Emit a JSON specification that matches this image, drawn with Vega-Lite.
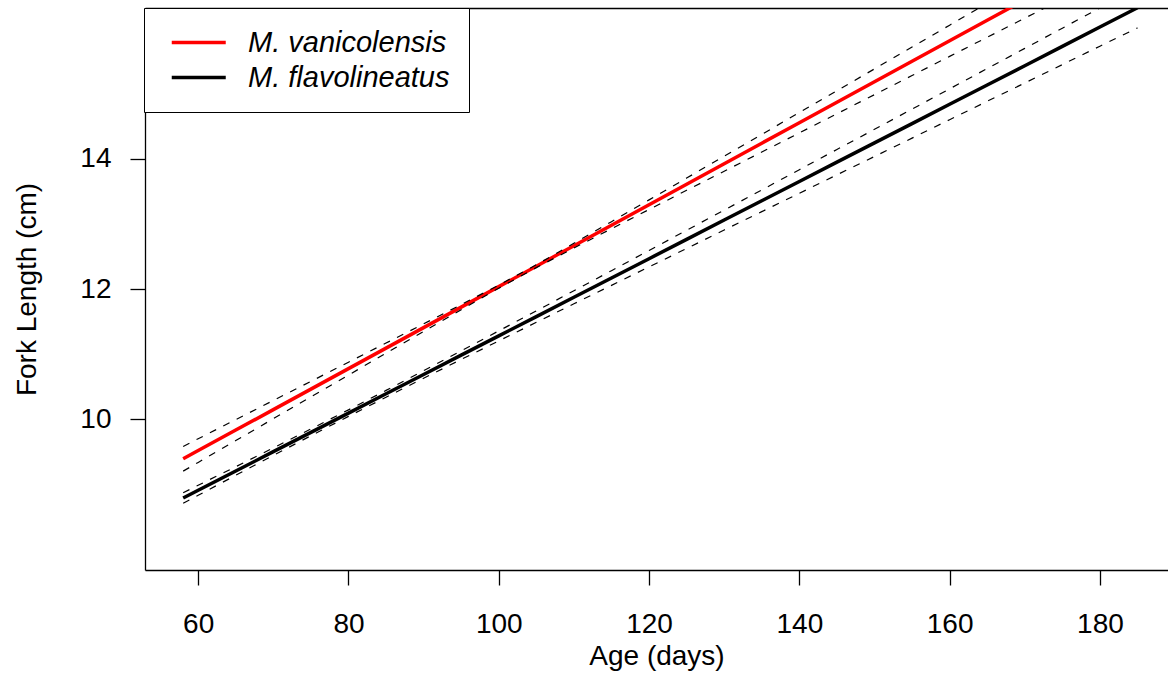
{
  "$schema": "https://vega.github.io/schema/vega-lite/v6.json",
  "width": 1023,
  "height": 562,
  "autosize": {"type": "none"},
  "padding": {"left": 145, "top": 8, "right": 0, "bottom": 109},
  "background": "white",
  "config": {
    "view": {"stroke": null},
    "font": "Liberation Sans",
    "axis": {
      "grid": false,
      "domainColor": "black",
      "domainWidth": 1.3,
      "tickColor": "black",
      "tickWidth": 1.3,
      "tickSize": 15,
      "labelFont": "Liberation Sans",
      "labelFontSize": 28,
      "labelColor": "black",
      "titleFont": "Liberation Sans",
      "titleFontSize": 28,
      "titleFontWeight": "normal",
      "titleColor": "black"
    },
    "legend": {
      "orient": "none",
      "legendX": -1,
      "legendY": 0,
      "strokeColor": "black",
      "fillColor": "white",
      "padding": 19,
      "symbolType": "M-0.5,0H3.5",
      "symbolSize": 729,
      "symbolStrokeWidth": 3.5,
      "labelFont": "Liberation Sans",
      "labelFontSize": 29,
      "labelFontStyle": "italic",
      "labelColor": "black",
      "labelOffset": 54,
      "rowPadding": 4,
      "labelLimit": 400
    }
  },
  "data": {
    "values": [
      {"species": "M. vanicolensis", "age": 58, "fit": 9.390, "lo": 9.200, "hi": 9.580},
      {"species": "M. vanicolensis", "age": 60, "fit": 9.516, "lo": 9.334, "hi": 9.698},
      {"species": "M. vanicolensis", "age": 65, "fit": 9.831, "lo": 9.670, "hi": 9.992},
      {"species": "M. vanicolensis", "age": 70, "fit": 10.146, "lo": 10.006, "hi": 10.286},
      {"species": "M. vanicolensis", "age": 75, "fit": 10.461, "lo": 10.342, "hi": 10.580},
      {"species": "M. vanicolensis", "age": 80, "fit": 10.776, "lo": 10.677, "hi": 10.875},
      {"species": "M. vanicolensis", "age": 85, "fit": 11.091, "lo": 11.013, "hi": 11.169},
      {"species": "M. vanicolensis", "age": 90, "fit": 11.406, "lo": 11.348, "hi": 11.464},
      {"species": "M. vanicolensis", "age": 95, "fit": 11.721, "lo": 11.682, "hi": 11.760},
      {"species": "M. vanicolensis", "age": 100, "fit": 12.036, "lo": 12.012, "hi": 12.060},
      {"species": "M. vanicolensis", "age": 105, "fit": 12.351, "lo": 12.329, "hi": 12.373},
      {"species": "M. vanicolensis", "age": 110, "fit": 12.666, "lo": 12.630, "hi": 12.702},
      {"species": "M. vanicolensis", "age": 115, "fit": 12.981, "lo": 12.927, "hi": 13.035},
      {"species": "M. vanicolensis", "age": 120, "fit": 13.296, "lo": 13.222, "hi": 13.370},
      {"species": "M. vanicolensis", "age": 125, "fit": 13.611, "lo": 13.517, "hi": 13.706},
      {"species": "M. vanicolensis", "age": 130, "fit": 13.926, "lo": 13.811, "hi": 14.041},
      {"species": "M. vanicolensis", "age": 135, "fit": 14.241, "lo": 14.105, "hi": 14.377},
      {"species": "M. vanicolensis", "age": 140, "fit": 14.556, "lo": 14.399, "hi": 14.713},
      {"species": "M. vanicolensis", "age": 145, "fit": 14.871, "lo": 14.694, "hi": 15.049},
      {"species": "M. vanicolensis", "age": 150, "fit": 15.186, "lo": 14.988, "hi": 15.384},
      {"species": "M. vanicolensis", "age": 155, "fit": 15.501, "lo": 15.282, "hi": 15.720},
      {"species": "M. vanicolensis", "age": 160, "fit": 15.816, "lo": 15.576, "hi": 16.056},
      {"species": "M. vanicolensis", "age": 165, "fit": 16.131, "lo": 15.870, "hi": 16.392},
      {"species": "M. vanicolensis", "age": 170, "fit": 16.446, "lo": 16.164, "hi": 16.728},
      {"species": "M. vanicolensis", "age": 175, "fit": 16.761, "lo": 16.458, "hi": 17.064},
      {"species": "M. vanicolensis", "age": 180, "fit": 17.076, "lo": 16.752, "hi": 17.400},
      {"species": "M. vanicolensis", "age": 185, "fit": 17.391, "lo": 17.046, "hi": 17.736},
      {"species": "M. flavolineatus", "age": 58, "fit": 8.787, "lo": 8.706, "hi": 8.868},
      {"species": "M. flavolineatus", "age": 60, "fit": 8.906, "lo": 8.829, "hi": 8.983},
      {"species": "M. flavolineatus", "age": 65, "fit": 9.202, "lo": 9.136, "hi": 9.268},
      {"species": "M. flavolineatus", "age": 70, "fit": 9.499, "lo": 9.441, "hi": 9.557},
      {"species": "M. flavolineatus", "age": 75, "fit": 9.796, "lo": 9.744, "hi": 9.848},
      {"species": "M. flavolineatus", "age": 80, "fit": 10.092, "lo": 10.042, "hi": 10.142},
      {"species": "M. flavolineatus", "age": 85, "fit": 10.389, "lo": 10.337, "hi": 10.441},
      {"species": "M. flavolineatus", "age": 90, "fit": 10.686, "lo": 10.628, "hi": 10.744},
      {"species": "M. flavolineatus", "age": 95, "fit": 10.983, "lo": 10.917, "hi": 11.049},
      {"species": "M. flavolineatus", "age": 100, "fit": 11.279, "lo": 11.202, "hi": 11.356},
      {"species": "M. flavolineatus", "age": 105, "fit": 11.576, "lo": 11.488, "hi": 11.664},
      {"species": "M. flavolineatus", "age": 110, "fit": 11.873, "lo": 11.773, "hi": 11.973},
      {"species": "M. flavolineatus", "age": 115, "fit": 12.169, "lo": 12.056, "hi": 12.282},
      {"species": "M. flavolineatus", "age": 120, "fit": 12.466, "lo": 12.340, "hi": 12.592},
      {"species": "M. flavolineatus", "age": 125, "fit": 12.763, "lo": 12.623, "hi": 12.903},
      {"species": "M. flavolineatus", "age": 130, "fit": 13.060, "lo": 12.907, "hi": 13.213},
      {"species": "M. flavolineatus", "age": 135, "fit": 13.356, "lo": 13.189, "hi": 13.523},
      {"species": "M. flavolineatus", "age": 140, "fit": 13.653, "lo": 13.472, "hi": 13.834},
      {"species": "M. flavolineatus", "age": 145, "fit": 13.950, "lo": 13.755, "hi": 14.145},
      {"species": "M. flavolineatus", "age": 150, "fit": 14.246, "lo": 14.037, "hi": 14.455},
      {"species": "M. flavolineatus", "age": 155, "fit": 14.543, "lo": 14.320, "hi": 14.766},
      {"species": "M. flavolineatus", "age": 160, "fit": 14.840, "lo": 14.603, "hi": 15.077},
      {"species": "M. flavolineatus", "age": 165, "fit": 15.137, "lo": 14.886, "hi": 15.389},
      {"species": "M. flavolineatus", "age": 170, "fit": 15.433, "lo": 15.167, "hi": 15.699},
      {"species": "M. flavolineatus", "age": 175, "fit": 15.730, "lo": 15.450, "hi": 16.010},
      {"species": "M. flavolineatus", "age": 180, "fit": 16.027, "lo": 15.733, "hi": 16.321},
      {"species": "M. flavolineatus", "age": 185, "fit": 16.323, "lo": 16.014, "hi": 16.632}
    ]
  },
  "layer": [
    {
      "mark": {"type": "line", "clip": true, "strokeWidth": 3.5},
      "encoding": {
        "x": {
          "field": "age", "type": "quantitative",
          "scale": {"domain": [52.92, 189.06], "nice": false, "zero": false},
          "axis": {"orient": "bottom", "values": [60, 80, 100, 120, 140, 160, 180], "title": "Age (days)", "labelPadding": 25, "titlePadding": 4, "labelBaseline": "top"}
        },
        "y": {
          "field": "fit", "type": "quantitative",
          "scale": {"domain": [7.68, 16.32], "nice": false, "zero": false},
          "axis": {"values": [10, 12, 14], "title": "Fork Length (cm)", "labelPadding": 19, "titlePadding": 38}
        },
        "color": {
          "field": "species", "type": "nominal",
          "scale": {"domain": ["M. vanicolensis", "M. flavolineatus"], "range": ["#FF0000", "#000000"]},
          "legend": {"title": null}
        }
      }
    },
    {
      "transform": [{"fold": ["lo", "hi"], "as": ["bound", "val"]}],
      "mark": {"type": "line", "clip": true, "strokeWidth": 1.2, "color": "black", "strokeDash": [7, 8]},
      "encoding": {
        "x": {
          "field": "age", "type": "quantitative",
          "scale": {"domain": [52.92, 189.06], "nice": false, "zero": false},
          "axis": {"orient": "top", "labels": false, "ticks": false, "title": null, "domain": true}
        },
        "y": {
          "field": "val", "type": "quantitative",
          "scale": {"domain": [7.68, 16.32], "nice": false, "zero": false},
          "axis": {"values": [10, 12, 14], "title": "Fork Length (cm)", "labelPadding": 19, "titlePadding": 38}
        },
        "detail": [{"field": "species", "type": "nominal"}, {"field": "bound", "type": "nominal"}]
      }
    }
  ],
  "resolve": {"axis": {"x": "independent"}}
}
